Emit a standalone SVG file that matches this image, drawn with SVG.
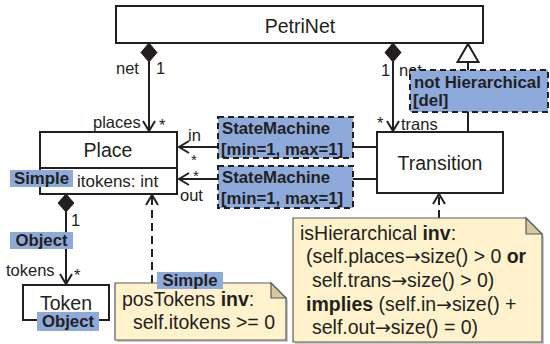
<svg xmlns="http://www.w3.org/2000/svg" width="550" height="344" viewBox="0 0 550 344">
<style>
text{font-family:"Liberation Sans",Arial,sans-serif;fill:#231f20}
.cls{fill:#fff;stroke:#231f20;stroke-width:2}
.cn{font-size:19.5px;text-anchor:middle}
.lbl{font-size:16.5px}
.b{font-weight:bold}
.ar{font-family:"DejaVu Sans",sans-serif;font-size:19px}
.blue{fill:#8eaadb}
.bd{fill:#8eaadb;stroke:#231f20;stroke-width:2;stroke-dasharray:6 4}
.bt{font-size:16.8px;font-weight:bold}
.note{fill:#fff2cc;stroke:#5a5a5a;stroke-width:1.2}
.fold{fill:#d6c8a2;stroke:#5a5a5a;stroke-width:1.2}
.shadow{fill:#c8c8c8}
.nt{font-size:19.5px}
.ln{fill:none;stroke:#231f20;stroke-width:2}
.dash{fill:none;stroke:#231f20;stroke-width:2;stroke-dasharray:8 5}
.dia{fill:#231f20;stroke:#231f20;stroke-width:1}
</style>

<g id="connectors">
  <!-- PetriNet -> Place composition -->
  <line class="ln" x1="149" y1="62" x2="149" y2="131"/>
  <polygon class="dia" points="149,43 157,52.5 149,62 141,52.5"/>
  <polyline class="ln" points="143,121 149,131 155,121"/>
  <!-- PetriNet -> Transition composition -->
  <line class="ln" x1="393" y1="62" x2="393" y2="131"/>
  <polygon class="dia" points="393,43 401,52.5 393,62 385,52.5"/>
  <polyline class="ln" points="387,121 393,131 399,121"/>
  <!-- Generalization -->
  <line class="ln" x1="468" y1="62" x2="468" y2="132"/>
  <polygon points="468,44 478.5,62 457.5,62" fill="#fff" stroke="#231f20" stroke-width="2"/>
  <!-- in -->
  <line class="ln" x1="377" y1="147" x2="179" y2="147"/>
  <polyline class="ln" points="189,141 179,147 189,153"/>
  <!-- out -->
  <line class="ln" x1="377" y1="179" x2="179" y2="179"/>
  <polyline class="ln" points="189,173 179,179 189,185"/>
  <!-- Place -> Token composition -->
  <line class="ln" x1="66" y1="212" x2="66" y2="284"/>
  <polygon class="dia" points="66,194 74,203 66,212 58,203"/>
  <polyline class="ln" points="60,274 66,284 72,274"/>
  <!-- constraint links -->
  <line class="dash" x1="152" y1="283" x2="152" y2="197"/>
  <polyline class="ln" points="146,205 152,195 158,205"/>
  <line class="dash" x1="439" y1="218" x2="439" y2="196"/>
  <polyline class="ln" points="433,204 439,194 445,204"/>

  <!-- end labels -->
  <text class="lbl" x="116" y="74">net</text>
  <text class="lbl" x="156" y="74">1</text>
  <text class="lbl" x="93" y="128">places</text>
  <text class="lbl" x="159" y="131">*</text>
  <text class="lbl" x="381" y="76">1</text>
  <text class="lbl" x="399" y="76">net</text>
  <text class="lbl" x="377" y="129">*</text>
  <text class="lbl" x="401" y="130">trans</text>
  <text class="lbl" x="188" y="141">in</text>
  <text class="lbl" x="191" y="165" style="font-size:15px">*</text>
  <text class="lbl" x="193" y="181" style="font-size:15px">*</text>
  <text class="lbl" x="180" y="201">out</text>
  <text class="lbl" x="71" y="226">1</text>
  <text class="lbl" x="6" y="276">tokens</text>
  <text class="lbl" x="74" y="281">*</text>

  <!-- stereotype labels on connectors -->
  <g id="sm-in">
    <rect class="bd" x="218" y="117" width="135" height="41"/>
    <text class="bt" x="222" y="134">StateMachine</text>
    <text class="bt" x="221" y="155">[min=1, max=1]</text>
  </g>
  <g id="sm-out">
    <rect class="bd" x="218" y="166" width="135" height="42"/>
    <text class="bt" x="222" y="183">StateMachine</text>
    <text class="bt" x="221" y="204">[min=1, max=1]</text>
  </g>
  <g id="gen-label">
    <rect class="bd" x="410" y="70" width="138" height="42"/>
    <text class="bt" x="414" y="88">not Hierarchical</text>
    <text class="bt" x="413" y="106">[del]</text>
  </g>
  <rect class="blue" x="10" y="232" width="63" height="17"/>
  <text class="bt" x="41.5" y="246" text-anchor="middle">Object</text>
</g>

<g id="PetriNet">
  <rect class="cls" x="116" y="6" width="367" height="37"/>
  <text class="cn" x="300" y="33">PetriNet</text>
</g>

<g id="Place">
  <rect class="cls" x="40" y="132" width="137" height="62"/>
  <line class="ln" x1="40" y1="168" x2="177" y2="168"/>
  <text class="cn" x="108" y="157">Place</text>
  <text class="lbl" x="77" y="187" style="font-size:17px">itokens: int</text>
  <rect class="blue" x="10" y="170" width="63" height="17"/>
  <text class="bt" x="41.5" y="184" text-anchor="middle">Simple</text>
</g>

<g id="Transition">
  <rect class="cls" x="377" y="132" width="126" height="61"/>
  <text class="cn" x="440" y="170">Transition</text>
</g>

<g id="Token">
  <rect class="cls" x="23" y="285" width="86" height="35"/>
  <text class="cn" x="66" y="310">Token</text>
  <rect class="blue" x="37" y="312" width="62" height="19"/>
  <text class="bt" x="68" y="327" text-anchor="middle">Object</text>
</g>

<g id="posTokens">
  <path class="shadow" d="M117,285 H273 L288,300 V342 H117 Z"/>
  <path class="note" d="M115,283 H271 L286,298 V340 H115 Z"/>
  <path class="fold" d="M271,283 L286,298 H271 Z"/>
  <text class="nt" x="122" y="306">posTokens <tspan class="b">inv</tspan>:</text>
  <text class="nt" x="133" y="329">self.itokens &gt;= 0</text>
  <rect class="blue" x="157" y="272" width="66" height="17"/>
  <text class="bt" x="190" y="286" text-anchor="middle">Simple</text>
</g>

<g id="isHierarchical">
  <path class="shadow" d="M295,220 H528 L544,236 V344 H295 Z"/>
  <path class="note" d="M293,218 H526 L542,234 V342 H293 Z"/>
  <path class="fold" d="M526,218 L542,234 H526 Z"/>
  <text class="nt" x="300" y="240">isHierarchical <tspan class="b">inv</tspan>:</text>
  <text class="nt" x="306" y="263">(self.places<tspan class="ar">→</tspan>size() &gt; 0 <tspan class="b">or</tspan></text>
  <text class="nt" x="312" y="287">self.trans<tspan class="ar">→</tspan>size() &gt; 0)</text>
  <text class="nt" x="306" y="311"><tspan class="b">implies</tspan> (self.in<tspan class="ar">→</tspan>size() +</text>
  <text class="nt" x="312" y="334">self.out<tspan class="ar">→</tspan>size() = 0)</text>
</g>
</svg>
